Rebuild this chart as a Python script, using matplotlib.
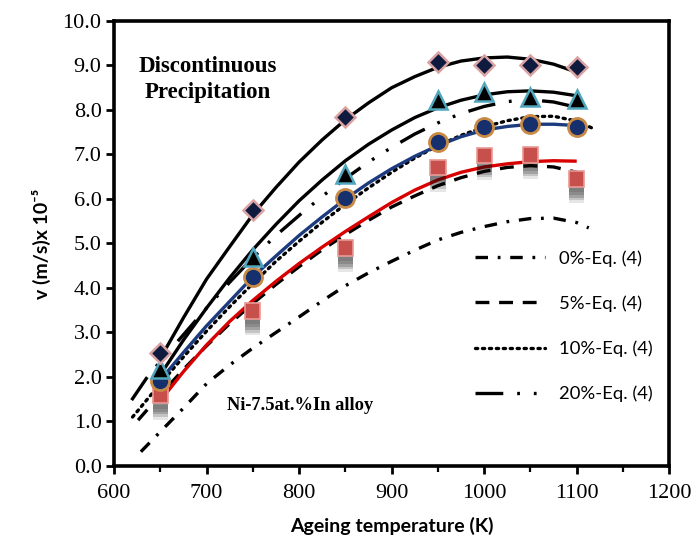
import matplotlib
matplotlib.use("Agg")
import matplotlib.pyplot as plt
import matplotlib.patheffects as pe

# ---------------- data ----------------
T_pts = [650, 750, 850, 950, 1000, 1050, 1100]
v_diamond = [2.55, 5.75, 7.85, 9.07, 9.00, 9.02, 8.97]
v_triangle = [2.18, 4.70, 6.56, 8.22, 8.41, 8.30, 8.24]
v_circle = [1.92, 4.25, 6.02, 7.27, 7.62, 7.68, 7.62]
v_square = [1.58, 3.48, 4.90, 6.71, 6.97, 6.99, 6.45]

T_fit = [650, 675, 700, 725, 750, 775, 800, 825, 850, 875, 900, 925, 950, 975, 1000, 1025, 1050, 1075, 1100]
v_fit_diamond = [2.42, 3.33, 4.20, 4.93, 5.65, 6.26, 6.83, 7.33, 7.78, 8.16, 8.50, 8.75, 8.96, 9.10, 9.17, 9.19, 9.14, 9.03, 8.85]
v_fit_triangle = [2.05, 2.83, 3.55, 4.23, 4.86, 5.43, 5.96, 6.43, 6.86, 7.23, 7.55, 7.83, 8.05, 8.22, 8.34, 8.41, 8.43, 8.40, 8.32]
v_fit_circle = [1.93, 2.55, 3.15, 3.70, 4.25, 4.72, 5.18, 5.60, 6.00, 6.36, 6.68, 6.96, 7.20, 7.40, 7.55, 7.63, 7.68, 7.68, 7.65]
T_fit_red = [652, 675, 700, 725, 750, 775, 800, 825, 850, 875, 900, 925, 950, 975, 1000, 1025, 1050, 1075, 1100]
v_fit_square = [1.52, 2.12, 2.72, 3.25, 3.72, 4.15, 4.55, 4.92, 5.27, 5.60, 5.92, 6.20, 6.43, 6.60, 6.72, 6.79, 6.84, 6.86, 6.85]

T_eq0 = [629, 650, 675, 700, 725, 750, 775, 800, 825, 850, 875, 900, 925, 950, 975, 1000, 1025, 1050, 1075, 1100, 1113]
v_eq0 = [0.32, 0.77, 1.30, 1.85, 2.27, 2.65, 3.00, 3.35, 3.71, 4.05, 4.34, 4.60, 4.85, 5.08, 5.25, 5.38, 5.49, 5.56, 5.57, 5.47, 5.35]
T_eq5 = [626, 650, 675, 700, 725, 750, 775, 800, 825, 850, 875, 900, 925, 950, 975, 1000, 1025, 1050, 1075, 1100, 1108]
v_eq5 = [1.03, 1.60, 2.17, 2.70, 3.20, 3.65, 4.08, 4.48, 4.86, 5.20, 5.52, 5.82, 6.07, 6.30, 6.48, 6.62, 6.71, 6.75, 6.72, 6.60, 6.52]
T_eq10 = [620, 650, 675, 700, 725, 750, 775, 800, 825, 850, 875, 900, 925, 950, 975, 1000, 1025, 1050, 1075, 1100, 1116]
v_eq10 = [1.10, 1.85, 2.45, 3.03, 3.58, 4.10, 4.60, 5.05, 5.48, 5.88, 6.25, 6.60, 6.92, 7.20, 7.43, 7.62, 7.76, 7.85, 7.86, 7.75, 7.60]
T_eq20 = [619, 635, 650, 675, 700, 725, 750, 775, 800, 825, 850, 875, 900, 925, 950, 975, 1000, 1025, 1050, 1075, 1100]
v_eq20 = [1.48, 1.97, 2.35, 2.95, 3.55, 4.13, 4.68, 5.18, 5.63, 6.06, 6.46, 6.83, 7.16, 7.46, 7.71, 7.92, 8.08, 8.19, 8.23, 8.18, 8.06]

legend_labels = ["0%-Eq. (4)", "5%-Eq. (4)", "10%-Eq. (4)", "20%-Eq. (4)"]
x_ticks = [600, 700, 800, 900, 1000, 1100, 1200]
y_ticks = [0, 1, 2, 3, 4, 5, 6, 7, 8, 9, 10]

# ---------------- style ----------------
plt.rcParams['lines.scale_dashes'] = False
SERIF = 'Liberation Serif'
SANS = ['Lato', 'DejaVu Sans']

fig = plt.figure(figsize=(6.97, 5.44), dpi=100)
ax = fig.add_axes([0.1636, 0.1434, 0.7966, 0.8180])

lw_fit = 2.4
lw_eq = 2.4

# theoretical curves
l0, = ax.plot(T_eq0, v_eq0, color='black', lw=lw_eq, dashes=(9, 7, 2, 7), dash_capstyle='butt')
l5, = ax.plot(T_eq5, v_eq5, color='black', lw=lw_eq, dashes=(10, 7), dash_capstyle='butt')
l10, = ax.plot(T_eq10, v_eq10, color='black', lw=lw_eq, dashes=(1.6, 3.4), dash_capstyle='round')
l20, = ax.plot(T_eq20, v_eq20, color='black', lw=lw_eq, dashes=(20, 10, 2, 10, 2, 10), dash_capstyle='butt')

# fitted curves
ax.plot(T_fit, v_fit_diamond, color='black', lw=lw_fit, solid_capstyle='butt')
ax.plot(T_fit, v_fit_triangle, color='black', lw=lw_fit, solid_capstyle='butt')
ax.plot(T_fit, v_fit_circle, color='#1c3a7e', lw=lw_fit, solid_capstyle='butt')
ax.plot(T_fit_red, v_fit_square, color='#d80000', lw=lw_fit, solid_capstyle='butt')

def shadow():
    effs = []
    for dy, a in [(-4, 0.10), (-6, 0.15), (-8, 0.18), (-10, 0.15), (-12, 0.10)]:
        effs.append(pe.SimplePatchShadow(offset=(0, dy), shadow_rgbFace='#0a0a0a', alpha=a))
    effs.append(pe.Normal())
    return effs

ax.plot(T_pts, v_square, ls='none', marker='s', ms=11, mfc='#c8504c', mec='#e89a94', mew=1.2,
        path_effects=shadow(), zorder=5)
ax.plot(T_pts, v_circle, ls='none', marker='o', ms=13, mfc='#16306e', mec='#c98a45', mew=2.0, zorder=6)
ax.plot(T_pts, v_triangle, ls='none', marker='^', ms=13, mfc='black', mec='#4fa6bd', mew=1.8, zorder=6)
ax.plot(T_pts, v_diamond, ls='none', marker='D', ms=10, mfc='#0e1a3e', mec='#d9a3a3', mew=1.8, zorder=7)

# axes
ax.set_xlim(600, 1200)
ax.set_ylim(0, 10)
ax.set_xticks(x_ticks)
ax.set_xticks([650, 750, 850, 950, 1050, 1150], minor=True)
ax.set_yticks(y_ticks)
ax.set_xticklabels([str(t) for t in x_ticks], fontfamily=SERIF, fontsize=16)
ax.set_yticklabels([f"{t:.1f}" for t in y_ticks], fontfamily=SERIF, fontsize=16)
for s in ax.spines.values():
    s.set_linewidth(2.6)
ax.tick_params(axis='both', which='major', direction='out', length=6, width=2.0, pad=3, colors='black')
ax.tick_params(axis='x', which='major', pad=7)
ax.tick_params(axis='x', which='minor', direction='out', length=4, width=1.6)

ax.set_xlabel('Ageing temperature (K)', fontfamily=SANS, fontweight='bold', fontsize=14, labelpad=10)
ax.set_ylabel('v (m/s)x 10\u207b\u2075', fontfamily=SANS, fontweight='bold', fontsize=14, labelpad=8)

ax.text(701, 8.68, 'Discontinuous\nPrecipitation', fontfamily=SERIF, fontweight='bold', fontsize=16.5,
        ha='center', va='center', linespacing=1.3)
ax.text(801, 1.37, 'Ni-7.5at.%In alloy', fontfamily=SERIF, fontweight='bold', fontsize=13.3,
        ha='center', va='center')

leg = ax.legend([l0, l5, l10, l20], legend_labels, loc='center left', bbox_to_anchor=(0.65, 0.314),
                frameon=False, prop={'family': SANS, 'size': 13.3}, handlelength=3.8,
                handletextpad=0.75, labelspacing=1.55, borderpad=0, borderaxespad=0)

fig.savefig('out.png', dpi=100)
